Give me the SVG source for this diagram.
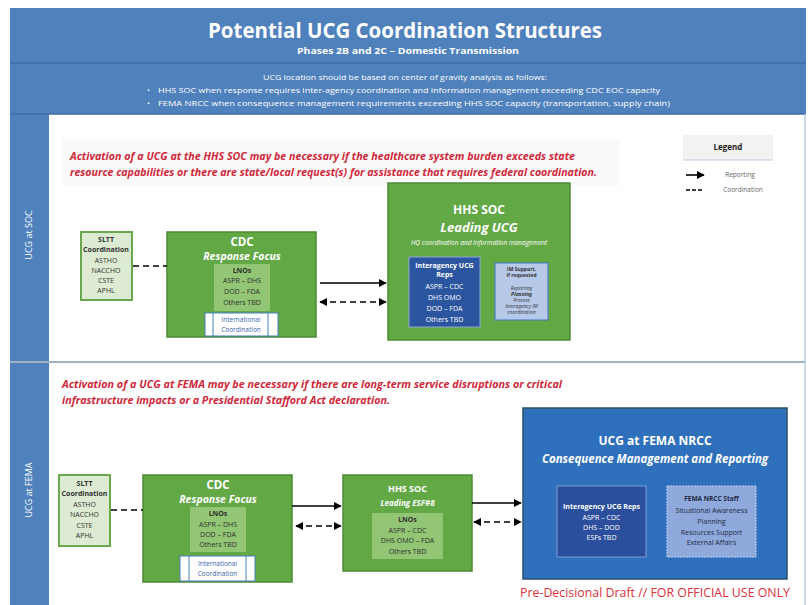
<svg xmlns="http://www.w3.org/2000/svg" width="809" height="605" viewBox="0 0 809 605">
<style>
text{font-family:"Open Sans","Liberation Sans",sans-serif}
.w{fill:#fff}
.c{text-anchor:middle}
.b{font-weight:bold}
.i{font-style:italic}
.red{fill:#d0283a;font-style:italic;font-weight:bold;font-size:10.5px}
.grn{fill:#62a845;stroke:#4d8a35;stroke-width:1.5}
.lno{fill:#92c674}
.sl{fill:#dcebd2;stroke:#6aa84f;stroke-width:2}
.sm{font-size:7px;fill:#333}
.lt{font-size:7px;fill:#2f2f2f}
.ww{font-size:7px;fill:#fff}
.intl{fill:#fff;stroke:#4a7ebf;stroke-width:1}
.it{font-size:6.5px;fill:#3a64b0}
.im{font-size:5px;fill:#333}
.conn line{stroke:#000;stroke-width:1.6}
.dash{stroke-dasharray:6 4}
</style>
<defs>
<marker id="ah" viewBox="0 0 10 10" refX="9" refY="5" markerWidth="5" markerHeight="5" orient="auto-start-reverse">
<path d="M0,0 L10,5 L0,10 z" fill="#000"/>
</marker>
</defs>
<rect width="809" height="605" fill="#fff"/>
<g id="header">
<rect x="10" y="8" width="796" height="106" fill="#4f81bd"/>
<line x1="10" y1="63" x2="806" y2="63" stroke="#3f6ea6" stroke-width="1.5"/>
<text x="405" y="38" class="w c b" font-size="21" textLength="394" lengthAdjust="spacingAndGlyphs">Potential UCG Coordination Structures</text>
<text x="408" y="54" class="w c b" font-size="9.5" textLength="222" lengthAdjust="spacingAndGlyphs">Phases 2B and 2C – Domestic Transmission</text>
<text x="405" y="80" class="w c" font-size="7.5" textLength="284" lengthAdjust="spacingAndGlyphs">UCG location should be based on center of gravity analysis as follows:</text>
<text x="147" y="93" class="w" font-size="7.5">•</text>
<text x="158" y="93" class="w" font-size="7.5" textLength="502" lengthAdjust="spacingAndGlyphs">HHS SOC when response requires inter-agency coordination and information management exceeding CDC EOC capacity</text>
<text x="147" y="106" class="w" font-size="7.5">•</text>
<text x="158" y="106" class="w" font-size="7.5" textLength="512" lengthAdjust="spacingAndGlyphs">FEMA NRCC when consequence management requirements exceeding HHS SOC capacity (transportation, supply chain)</text>
</g>
<g id="sidebar">
<rect x="10" y="114" width="39" height="491" fill="#4f81bd"/>
<line x1="10" y1="114" x2="806" y2="114" stroke="#3f6ea6" stroke-width="1.5"/>
<line x1="10" y1="362" x2="806" y2="362" stroke="#9fb3c4" stroke-width="2"/>
<line x1="805" y1="114" x2="805" y2="605" stroke="#b8cbe0" stroke-width="1.5"/>
<text transform="translate(32,235) rotate(-90)" class="w c" font-size="9">UCG at SOC</text>
<text transform="translate(32,490) rotate(-90)" class="w c" font-size="9">UCG at FEMA</text>
</g>
<g id="note-soc">
<rect x="62" y="139" width="558" height="47" fill="#fafafa"/>
<text x="70" y="160" class="red" textLength="505" lengthAdjust="spacingAndGlyphs">Activation of a UCG at the HHS SOC may be necessary if the healthcare system burden exceeds state</text>
<text x="70" y="176" class="red" textLength="527" lengthAdjust="spacingAndGlyphs">resource capabilities or there are state/local request(s) for assistance that requires federal coordination.</text>
</g>
<g id="legend">
<rect x="683" y="135" width="90" height="25" fill="#f2f2f2"/>
<line x1="683" y1="160" x2="773" y2="160" stroke="#b8cde4" stroke-width="1"/>
<text x="728" y="150" class="c b" font-size="8" fill="#222">Legend</text>
<line x1="686" y1="175" x2="704" y2="175" stroke="#000" stroke-width="1.6" marker-end="url(#ah)"/>
<text x="740" y="177" class="c" font-size="6.5" fill="#666">Reporting</text>
<line x1="686" y1="190" x2="704" y2="190" stroke="#000" stroke-width="1.6" stroke-dasharray="4 2"/>
<text x="743" y="192" class="c" font-size="6.5" fill="#666">Coordination</text>
</g>
<g id="sltt-soc">
<rect x="81" y="232" width="51" height="68" class="sl"/>
<text x="106" y="242" class="c b sm" font-size="6.5">SLTT</text>
<text x="106" y="252" class="c b sm" font-size="6.5">Coordination</text>
<text x="106" y="263" class="c sm">ASTHO</text>
<text x="106" y="273" class="c sm">NACCHO</text>
<text x="106" y="283" class="c sm">CSTE</text>
<text x="106" y="293" class="c sm">APHL</text>
</g>
<g id="cdc-soc">
<rect x="167" y="232" width="149" height="105" class="grn"/>
<text x="242" y="246" class="w c b" font-size="11.5">CDC</text>
<text x="242" y="260" class="w c b i" font-size="10.5">Response Focus</text>
<rect x="214" y="264" width="56" height="47" class="lno"/>
<text x="242" y="273" class="c b lt">LNOs</text>
<text x="242" y="283" class="c lt">ASPR – DHS</text>
<text x="242" y="294" class="c lt">DOD – FDA</text>
<text x="242" y="305" class="c lt">Others TBD</text>
<rect x="205" y="313" width="73" height="23" class="intl"/>
<line x1="213" y1="313" x2="213" y2="336" stroke="#4a7ebf"/>
<line x1="268" y1="313" x2="268" y2="336" stroke="#4a7ebf"/>
<text x="241" y="322" class="c it">International</text>
<text x="241" y="332" class="c it">Coordination</text>
</g>
<g id="hhs-soc">
<rect x="388" y="183" width="182" height="157" class="grn"/>
<text x="479" y="214" class="w c b" font-size="12">HHS SOC</text>
<text x="479" y="232" class="w c b i" font-size="13">Leading UCG</text>
<text x="479" y="245" class="w c i" font-size="6.5">HQ coordination and information management</text>
<rect x="409" y="257" width="71" height="70" fill="#2c55a0" stroke="#8fa9d6" stroke-width="1"/>
<text x="444.5" y="268" class="c b ww" font-size="6.5">Interagency UCG</text>
<text x="444.5" y="277" class="c b ww" font-size="6.5">Reps</text>
<text x="444.5" y="289" class="c ww">ASPR – CDC</text>
<text x="444.5" y="300" class="c ww">DHS OMO</text>
<text x="444.5" y="311" class="c ww">DOD – FDA</text>
<text x="444.5" y="322" class="c ww">Others TBD</text>
<rect x="495" y="263" width="53" height="57" fill="#b7c9e8" stroke="#4472c4" stroke-width="1"/>
<text x="521.5" y="271" class="c b im" fill="#222">IM Support,</text>
<text x="521.5" y="277" class="c b im" fill="#222">if requested</text>
<text x="521.5" y="290" class="c i im">Reporting</text>
<text x="521.5" y="296" class="c b i im">Planning</text>
<text x="521.5" y="302" class="c i im">Process</text>
<text x="521.5" y="308" class="c i im">Interagency IM</text>
<text x="521.5" y="314" class="c i im">coordination</text>
</g>
<g id="note-fema">
<text x="62" y="388" class="red" textLength="500" lengthAdjust="spacingAndGlyphs">Activation of a UCG at FEMA may be necessary if there are long-term service disruptions or critical</text>
<text x="62" y="404" class="red" textLength="328" lengthAdjust="spacingAndGlyphs">infrastructure impacts or a Presidential Stafford Act declaration.</text>
</g>
<g id="sltt-fema">
<rect x="59" y="475" width="51" height="71" class="sl"/>
<text x="84.5" y="486" class="c b sm" font-size="6.5">SLTT</text>
<text x="84.5" y="496" class="c b sm" font-size="6.5">Coordination</text>
<text x="84.5" y="507" class="c sm">ASTHO</text>
<text x="84.5" y="517" class="c sm">NACCHO</text>
<text x="84.5" y="528" class="c sm">CSTE</text>
<text x="84.5" y="538" class="c sm">APHL</text>
</g>
<g id="cdc-fema">
<rect x="143" y="475" width="149" height="107" class="grn"/>
<text x="218" y="489" class="w c b" font-size="11.5">CDC</text>
<text x="218" y="503" class="w c b i" font-size="10.5">Response Focus</text>
<rect x="190" y="507" width="56" height="45" class="lno"/>
<text x="218" y="516" class="c b lt">LNOs</text>
<text x="218" y="527" class="c lt">ASPR – DHS</text>
<text x="218" y="537" class="c lt">DOD – FDA</text>
<text x="218" y="547" class="c lt">Others TBD</text>
<rect x="180" y="556" width="75" height="25" class="intl"/>
<line x1="189" y1="556" x2="189" y2="581" stroke="#4a7ebf"/>
<line x1="246" y1="556" x2="246" y2="581" stroke="#4a7ebf"/>
<text x="217.5" y="566" class="c it">International</text>
<text x="217.5" y="576" class="c it">Coordination</text>
</g>
<g id="hhs-fema">
<rect x="343" y="475" width="129" height="96" class="grn"/>
<text x="407.5" y="492" class="w c b" font-size="9">HHS SOC</text>
<text x="407.5" y="506" class="w c b i" font-size="8">Leading ESF#8</text>
<rect x="372" y="513" width="71" height="46" class="lno"/>
<text x="407.5" y="522" class="c b lt">LNOs</text>
<text x="407.5" y="533" class="c lt">ASPR – CDC</text>
<text x="407.5" y="543" class="c lt">DHS OMO – FDA</text>
<text x="407.5" y="554" class="c lt">Others TBD</text>
</g>
<g id="fema-nrcc">
<rect x="523" y="408" width="264" height="171" fill="#2f70bd" stroke="#2b4f66" stroke-width="1.5"/>
<text x="655" y="445" class="w c b" font-size="12">UCG at FEMA NRCC</text>
<text x="655" y="463" class="w c b i" font-size="11.5">Consequence Management and Reporting</text>
<rect x="557" y="486" width="89" height="71" fill="#2b4f9c" stroke="#7d9dd0" stroke-width="1"/>
<text x="601.5" y="509" class="c b ww" font-size="6.5">Interagency UCG Reps</text>
<text x="601.5" y="520" class="c ww">ASPR – CDC</text>
<text x="601.5" y="530" class="c ww">DHS – DOD</text>
<text x="601.5" y="540" class="c ww">ESFs TBD</text>
<rect x="667" y="486" width="89" height="71" fill="#8fa9dc" stroke="#c7d5ee" stroke-width="1" stroke-dasharray="2 1"/>
<text x="711.5" y="501" class="c b" font-size="6.5" fill="#1e2a44">FEMA NRCC Staff</text>
<text x="711.5" y="513" class="c" font-size="7" fill="#1e2a44">Situational Awareness</text>
<text x="711.5" y="524" class="c" font-size="7" fill="#1e2a44">Planning</text>
<text x="711.5" y="535" class="c" font-size="7" fill="#1e2a44">Resources Support</text>
<text x="711.5" y="545" class="c" font-size="7" fill="#1e2a44">External Affairs</text>
</g>
<g id="connectors" class="conn">
<line x1="133" y1="266" x2="167" y2="266" class="dash"/>
<line x1="320" y1="283" x2="386" y2="283" marker-end="url(#ah)"/>
<line x1="320" y1="302" x2="386" y2="302" class="dash" marker-start="url(#ah)" marker-end="url(#ah)"/>
<line x1="111" y1="510" x2="143" y2="510" class="dash"/>
<line x1="292" y1="506" x2="341" y2="506" marker-end="url(#ah)"/>
<line x1="296" y1="526" x2="341" y2="526" class="dash" marker-start="url(#ah)" marker-end="url(#ah)"/>
<line x1="472" y1="503" x2="521" y2="503" marker-end="url(#ah)"/>
<line x1="474" y1="522" x2="521" y2="522" class="dash" marker-start="url(#ah)" marker-end="url(#ah)"/>
</g>
<g id="footer">
<text x="655" y="597" class="c" font-size="12.5" fill="#e0303a" textLength="270" lengthAdjust="spacingAndGlyphs">Pre-Decisional Draft // FOR OFFICIAL USE ONLY</text>
</g>
</svg>
